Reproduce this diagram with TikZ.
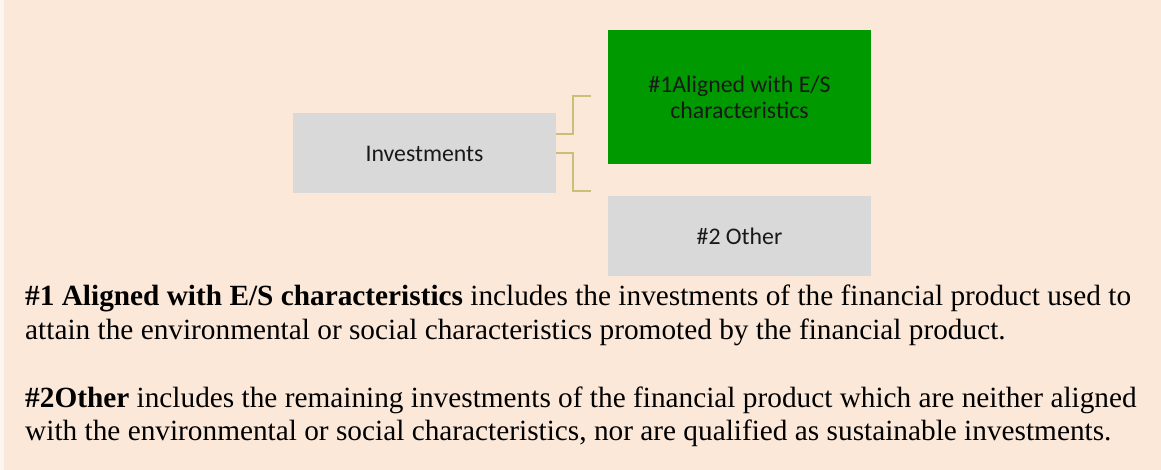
\documentclass[tikz,border=0pt]{standalone}
\usepackage{fontspec}
\setmainfont{Liberation Serif}
\newfontfamily\calfont{Carlito}
\definecolor{peach}{RGB}{251,232,217}
\definecolor{boxgray}{RGB}{217,217,217}
\definecolor{boxgreen}{RGB}{0,153,0}
\definecolor{conncol}{RGB}{202,190,120}
\tikzset{
  boxnode/.style={minimum width=263pt, minimum height=80pt, inner sep=0pt, align=center,
    font=\calfont\fontsize{23.8}{26}\selectfont, text=black!90},
  conn/.style={draw=conncol, line width=2pt},
  para/.style={anchor=base west, inner sep=0pt, font=\fontsize{29.3}{34}\selectfont}
}
\begin{document}
\begin{tikzpicture}[x=1pt,y=-1pt]
\useasboundingbox (0,0) rectangle (1161,470);
\fill[white!60!peach] (0,0) rectangle (4,470);
\fill[peach] (4,0) rectangle (1161,470);
\node[boxnode, fill=boxgray] (inv) at (424.5,153.5) {Investments};
\node[boxnode, fill=boxgreen, minimum height=134pt] (al) at (739.5,97) {\#1Aligned with E/S\\characteristics};
\node[boxnode, fill=boxgray] (oth) at (739.5,236) {\#2 Other};
\coordinate (s1) at (inv.east |- 0,134);
\coordinate (s2) at (inv.east |- 0,153);
\coordinate (e1) at (591,96);
\coordinate (e2) at (591,191);
\draw[conn] (s1) -- (573,134) |- (e1);
\draw[conn] (s2) -- (573,153) |- (e2);
\node[para] (p1a) at (25,305) {\textbf{\#1 Aligned with E/S characteristics} includes the investments of the financial product used to};
\node[para] (p1b) at (25,339) {attain the environmental or social characteristics promoted by the financial product.};
\node[para] (p2a) at (25,407) {\textbf{\#2Other} includes the remaining investments of the financial product which are neither aligned};
\node[para] (p2b) at (25,440) {with the environmental or social characteristics, nor are qualified as sustainable investments.};
\end{tikzpicture}
\end{document}
